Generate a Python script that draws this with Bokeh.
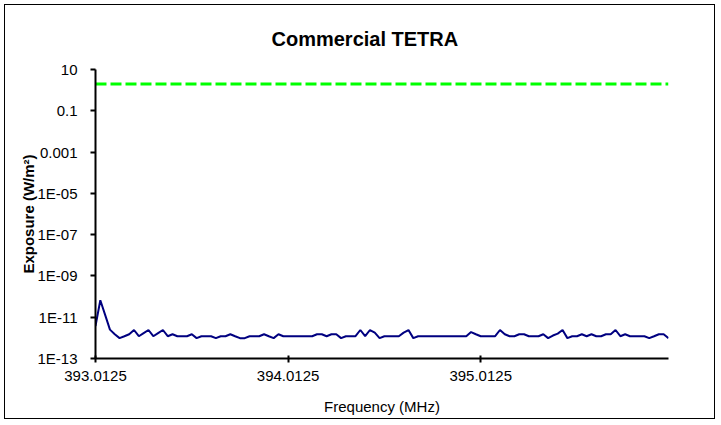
from bokeh.plotting import figure
from bokeh.models import (Range1d, FixedTicker, PrintfTickFormatter, CustomJSTickFormatter, Title)
from bokeh.embed import file_html
from bokeh.resources import INLINE

title_text = "Commercial TETRA"
x_label = "Frequency (MHz)"
y_label = "Exposure (W/m\u00b2)"

start_freq = 393.0125
step_freq = 0.025
n_channels = 120
frequencies = [round(start_freq + step_freq * i, 4) for i in range(n_channels)]

x_ticks = [393.0125, 394.0125, 395.0125]
y_ticks = [1e-13, 1e-11, 1e-9, 1e-7, 1e-5, 1e-3, 1e-1, 10]
y_tick_labels = ["1E-13", "1E-11", "1E-09", "1E-07", "1E-05", "0.001", "0.1", "10"]

# measured exposure, in pW/m^2
exposure_pw = [
    3.7, 66, 13, 2.5, 1.5, 0.97, 1.2, 1.5, 2.4, 1.2,
    1.7, 2.4, 1.2, 1.7, 2.4, 1.2, 1.5, 1.2, 1.2, 1.2,
    1.5, 0.97, 1.2, 1.2, 1.2, 0.97, 1.2, 1.2, 1.5, 1.2,
    0.97, 0.97, 1.2, 1.2, 1.2, 1.5, 1.2, 0.97, 1.5, 1.2,
    1.2, 1.2, 1.2, 1.2, 1.2, 1.2, 1.5, 1.5, 1.2, 1.5,
    1.5, 0.97, 1.2, 1.2, 1.2, 2.4, 1.2, 2.4, 1.8, 0.97,
    1.2, 1.2, 1.2, 1.2, 1.8, 2.4, 0.97, 1.2, 1.2, 1.2,
    1.2, 1.2, 1.2, 1.2, 1.2, 1.2, 1.2, 1.2, 1.9, 1.5,
    1.2, 1.2, 1.2, 1.2, 2.4, 1.5, 1.2, 1.2, 1.5, 1.5,
    1.2, 1.2, 1.2, 1.5, 0.97, 1.3, 1.6, 2.4, 0.97, 1.2,
    1.2, 1.5, 1.2, 1.5, 1.2, 1.2, 1.5, 1.5, 2.4, 1.2,
    1.5, 1.2, 1.2, 1.2, 1.2, 0.97, 1.2, 1.5, 1.5, 0.97,
]
exposure = [v * 1e-12 for v in exposure_pw]

# reference level (W/m^2) at the band ends
limit_freq = [393.0125, 395.9875]
limit_level = [1.965, 1.98]

FONT = "Liberation Sans"

p = figure(width=711, height=415, output_backend="svg", toolbar_location=None,
           y_axis_type="log",
           x_range=Range1d(393.0125, 395.9875), y_range=Range1d(1e-13, 10),
           min_border_left=90, min_border_right=48, min_border_top=63, min_border_bottom=62)
p.background_fill_color = "white"
p.border_fill_color = "white"
p.outline_line_color = None
p.xgrid.visible = False
p.ygrid.visible = False
p.styles = {"margin": "4px 0px 0px 4px", "border": "1px solid black"}

p.title = Title(text=title_text, align="left", offset=176, standoff=40,
                text_font=FONT, text_font_style="bold", text_font_size="20px",
                text_color="black")

p.line(limit_freq, limit_level, line_color="#00FF00", line_width=3, line_dash="11 4")
p.line(frequencies, exposure, line_color="#000080", line_width=2)

xa = p.xaxis[0]
xa.ticker = FixedTicker(ticks=x_ticks, minor_ticks=[])
xa.formatter = PrintfTickFormatter(format="%.4f")
xa.axis_label = x_label
xa.axis_label_text_font = FONT
xa.axis_label_text_font_style = "normal"
xa.axis_label_text_font_size = "15px"
xa.axis_label_text_color = "black"
xa.axis_label_standoff = 14
xa.major_label_text_font = FONT
xa.major_label_text_font_size = "15px"
xa.major_label_text_color = "black"
xa.major_label_standoff = 8
xa.major_tick_in = 3
xa.major_tick_out = 4
xa.minor_tick_line_color = None
xa.axis_line_width = 2
xa.major_tick_line_width = 2
xa.axis_line_color = "black"
xa.major_tick_line_color = "black"

ya = p.yaxis[0]
ya.ticker = FixedTicker(ticks=y_ticks, minor_ticks=[])
ya.formatter = CustomJSTickFormatter(args=dict(tvals=y_ticks, tlabels=y_tick_labels), code="""
    let best = 0, bd = Infinity;
    for (let i = 0; i < tvals.length; i++) {
        const d = Math.abs(Math.log10(tvals[i]) - Math.log10(tick));
        if (d < bd) { bd = d; best = i; }
    }
    return tlabels[best];
""")
ya.axis_label = y_label
ya.axis_label_text_font = FONT
ya.axis_label_text_font_style = "bold"
ya.axis_label_text_font_size = "15px"
ya.axis_label_text_color = "black"
ya.axis_label_standoff = -3
ya.major_label_text_font = FONT
ya.major_label_text_font_size = "15px"
ya.major_label_text_color = "black"
ya.major_label_standoff = 13
ya.major_tick_in = 0
ya.major_tick_out = 5
ya.minor_tick_line_color = None
ya.axis_line_width = 2
ya.major_tick_line_width = 2
ya.axis_line_color = "black"
ya.major_tick_line_color = "black"

open("out.html", "w").write(file_html(p, INLINE))
